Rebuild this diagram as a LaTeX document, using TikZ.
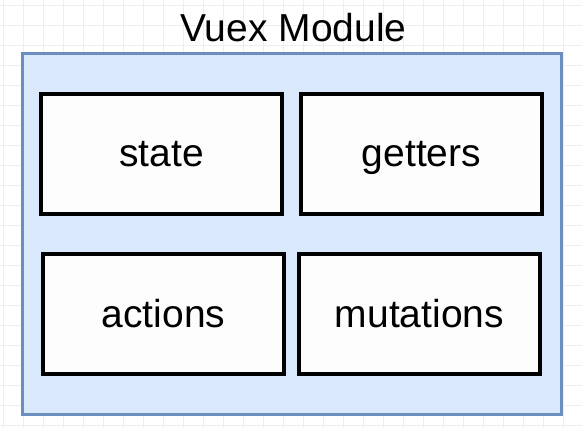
\documentclass[tikz,border=0pt]{standalone}
\usepackage{fontspec}
\setmainfont{Liberation Sans}
\definecolor{gridc}{HTML}{EEEEEE}
\definecolor{modfill}{HTML}{DAE8FC}
\definecolor{moddraw}{HTML}{6C8EBF}
\definecolor{boxfill}{HTML}{FDFDFD}
\begin{document}
\begin{tikzpicture}[x=1pt,y=-1pt,
  lbl/.style={font=\fontsize{39}{44}\selectfont, inner sep=0pt},
  part/.style={draw=black, line width=3.5pt, fill=boxfill, minimum width=241pt, minimum height=120pt, inner sep=0pt, text height=26pt, text depth=0pt, font=\fontsize{39}{44}\selectfont}]
\useasboundingbox (0,0) rectangle (582,428);
\fill[white] (0,0) rectangle (582,428);
\foreach \x in {3,23,...,582} \draw[gridc, line width=0.8pt] (\x,0) -- (\x,428);
\foreach \y in {5,25,...,428} \draw[gridc, line width=0.8pt] (0,\y) -- (582,\y);
\node[draw=moddraw, fill=modfill, line width=3pt, minimum width=539pt, minimum height=360pt, inner sep=0pt] (module) at (291.5,234) {};
\node[lbl, anchor=base] (title) at (293.5,42) {Vuex Module};
\node[part] (state) at (161.5,154) {state};
\node[part] (getters) at (421.5,154) {getters};
\node[part] (actions) at (163.5,314) {actions};
\node[part] (mutations) at (419.5,314) {mutations};
\end{tikzpicture}
\end{document}
